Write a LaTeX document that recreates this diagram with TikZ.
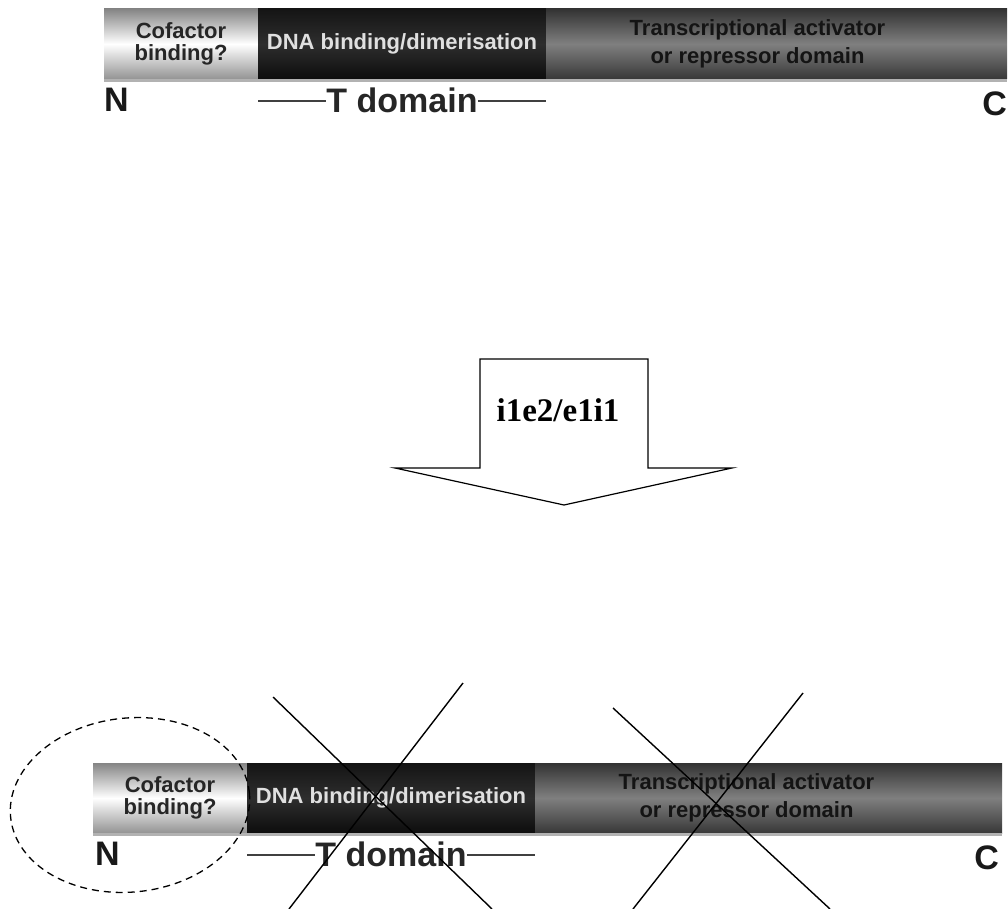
\documentclass[tikz,border=0pt]{standalone}
\usepackage{fontspec}
\setmainfont{Liberation Sans}
\newfontfamily\arrowfont{Liberation Serif}
\usepackage{tikz}
\usetikzlibrary{positioning}

\begin{document}
\begin{tikzpicture}[
  x=1pt, y=-1pt,
  seg/.style   ={minimum height=70pt, inner sep=0pt, outer sep=0pt, align=center,
                 font=\fontsize{22}{22}\selectfont\bfseries},
  cofseg/.style={seg, minimum width=154pt, top color=black!48, bottom color=black!42,
                 middle color=white, text=black!85},
  dnaseg/.style={seg, minimum width=288pt, top color=black!92, bottom color=black!95,
                 middle color=black!82, text=black!12},
  actseg/.style={seg, minimum width=461pt, top color=black!80, bottom color=black!78,
                 middle color=black!50},
  acttxt/.style={align=center, inner sep=0pt, text=black!92,
                 font=\fontsize{22}{28}\selectfont\bfseries},
  strip/.style ={fill=black!30},
  endlbl/.style={inner sep=0pt, font=\fontsize{34}{34}\selectfont\bfseries, text=black!90},
  tdom/.style  ={inner sep=0pt, font=\fontsize{34}{34}\selectfont\bfseries, text=black!85},
  rule/.style  ={draw=black!75, line width=2pt},
  cross/.style ={draw=black, line width=1.4pt},
  oval/.style  ={draw=black, line width=1.3pt, dash pattern=on 7pt off 5pt}
]
\useasboundingbox (0,0) rectangle (1008,909);

\node[cofseg, anchor=north west] (cof1) at (104,9) {Cofactor\\binding?};
\node[dnaseg, right=0pt of cof1] (dna1) {DNA binding/dimerisation};
\node[actseg, right=0pt of dna1] (act1) {};
\node[acttxt] (txt1) at ([xshift=-19pt]act1.center) {Transcriptional activator\\or repressor domain};
\fill[strip] (cof1.south west) rectangle ([yshift=-3pt]act1.south east);
\node[endlbl, below right=9pt and 0pt of cof1.south west] (n1) {N};
\node[endlbl, below left=13pt and 0pt of act1.south east] (c1) {C};
\node[tdom, below=9pt of dna1] (td1) {T domain};
\draw[rule] (cof1.south east |- td1.west) -- (td1.west);
\draw[rule] (td1.east) -- (dna1.south east |- td1.east);

\draw[line width=1.2pt, fill=white] (480,359) -- (648,359) -- (648,468) -- (732,468)
  -- (564,505) -- (395,468) -- (480,468) -- cycle;
\node[font=\arrowfont\bfseries\fontsize{33}{33}\selectfont] (cut) at (558,410) {i1e2/e1i1};

\node[cofseg, anchor=north west] (cof2) at (93,763) {Cofactor\\binding?};
\node[dnaseg, right=0pt of cof2] (dna2) {DNA binding/dimerisation};
\node[actseg, minimum width=467pt, right=0pt of dna2] (act2) {};
\node[acttxt] (txt2) at ([xshift=-22pt]act2.center) {Transcriptional activator\\or repressor domain};
\fill[strip] (cof2.south west) rectangle ([yshift=-3pt]act2.south east);
\node[endlbl, below right=9pt and 2pt of cof2.south west] (n2) {N};
\node[endlbl, below left=13pt and 3pt of act2.south east] (c2) {C};
\node[tdom, below=9pt of dna2] (td2) {T domain};
\draw[rule] (cof2.south east |- td2.west) -- (td2.west);
\draw[rule] (td2.east) -- (dna2.south east |- td2.east);

\draw[oval, rotate around={6:(130,805)}] (130,805) ellipse [x radius=120, y radius=87];
\draw[cross] (273,697) -- (492,909);
\draw[cross] (463,683) -- (289,909);
\draw[cross] (613,708) -- (830,909);
\draw[cross] (803,693) -- (633,909);
\end{tikzpicture}
\end{document}
